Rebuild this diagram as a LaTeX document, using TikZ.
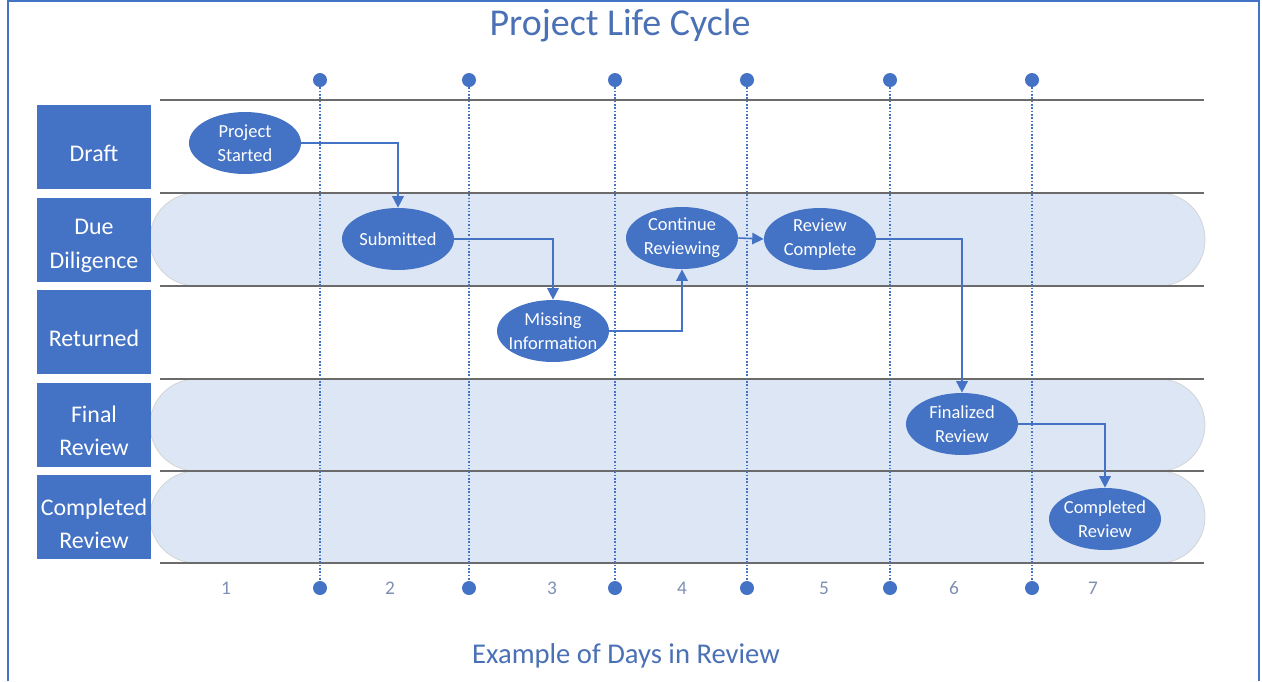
\documentclass[tikz,border=0pt]{standalone}
\usepackage{fontspec}
\setmainfont{Carlito}
\usetikzlibrary{shapes.geometric, arrows.meta}
\definecolor{boxblue}{HTML}{4472C4}
\definecolor{lanefill}{HTML}{DCE6F4}
\definecolor{rulegray}{HTML}{6B6B6B}
\definecolor{titleblue}{HTML}{4A70B5}
\definecolor{daygray}{HTML}{7D8FB3}

\begin{document}
\begin{tikzpicture}[x=0.02cm, y=-0.02cm,
    lanelabel/.style={fill=boxblue, minimum width=2.28cm, minimum height=1.68cm, inner sep=0pt,
        label={[text=white, align=center, font=\fontsize{13.6}{19}\selectfont, yshift=-0.13cm]center:#1}},
    stage/.style={ellipse, fill=boxblue, text=white, minimum width=2.24cm, minimum height=1.24cm, inner sep=-5pt, align=center, font=\fontsize{10.5}{13.6}\selectfont},
    tick/.style={circle, fill=boxblue, minimum size=0.28cm, inner sep=0pt},
    flow/.style={draw=boxblue, line width=0.9pt, -{Triangle[length=6.5pt,width=6.5pt]}},
    lane/.style={fill=lanefill, draw=gray!35, rounded corners=0.92cm},
    rule/.style={draw=rulegray, line width=0.8pt},
    daymark/.style={draw=boxblue, line width=0.9pt, densely dotted},
    day/.style={text=daygray, font=\fontsize{11}{13}\selectfont}]
        \useasboundingbox (0, 0) rectangle (1262, 681);
        \draw[boxblue, line width=0.8pt] (8, 681) -- (8, 1) -- (1259, 1) -- (1259, 681);

        \node[text=titleblue, font=\fontsize{21.6}{26}\selectfont] at (620, 26) (title) {Project Life Cycle};
        \node[text=titleblue, font=\fontsize{16.3}{19}\selectfont] at (626, 656) (axis) {Example of Days in Review};

        \path[lane] (150, 193) rectangle (1205, 286);
        \path[lane] (150, 379) rectangle (1205, 471);
        \path[lane] (150, 471) rectangle (1205, 563);

        \draw[rule] (160, 100) -- (1204, 100);
        \draw[rule] (160, 193) -- (1204, 193);
        \draw[rule] (160, 286) -- (1204, 286);
        \draw[rule] (160, 379) -- (1204, 379);
        \draw[rule] (160, 471) -- (1204, 471);
        \draw[rule] (160, 563) -- (1204, 563);

        \node[lanelabel={Draft}] at (94, 146.5)            (draft)    {};
        \node[lanelabel={Due\\Diligence}] at (94, 239.5)   (due)      {};
        \node[lanelabel={Returned}] at (94, 332)           (returned) {};
        \node[lanelabel={Final\\Review}] at (94, 424.5)    (final)    {};
        \node[lanelabel={Completed\\Review}] at (94, 517)  (done)     {};

        \node[tick] at (320, 80)  (t1) {};
        \node[tick] at (469, 80)  (t2) {};
        \node[tick] at (615, 80)  (t3) {};
        \node[tick] at (747, 80)  (t4) {};
        \node[tick] at (890, 80)  (t5) {};
        \node[tick] at (1032, 80) (t6) {};
        \node[tick] at (320, 588)  (b1) {};
        \node[tick] at (469, 588)  (b2) {};
        \node[tick] at (615, 588)  (b3) {};
        \node[tick] at (747, 588)  (b4) {};
        \node[tick] at (890, 588)  (b5) {};
        \node[tick] at (1032, 588) (b6) {};

        \draw[daymark] (t1) -- (b1);
        \draw[daymark] (t2) -- (b2);
        \draw[daymark] (t3) -- (b3);
        \draw[daymark] (t4) -- (b4);
        \draw[daymark] (t5) -- (b5);
        \draw[daymark] (t6) -- (b6);

        \node[day] at (226, 588)  (d1) {1};
        \node[day] at (390, 588)  (d2) {2};
        \node[day] at (552, 588)  (d3) {3};
        \node[day] at (682, 588)  (d4) {4};
        \node[day] at (824, 588)  (d5) {5};
        \node[day] at (954, 588)  (d6) {6};
        \node[day] at (1093, 588) (d7) {7};

        \node[stage] at (245, 143)  (started)    {Project\\Started};
        \node[stage] at (398, 239)  (submitted)  {Submitted};
        \node[stage] at (553, 331)  (missing)    {Missing\\Information};
        \node[stage] at (682, 238)  (continuing) {Continue\\Reviewing};
        \node[stage] at (820, 239)  (reviewed)   {Review\\Complete};
        \node[stage] at (962, 424)  (finalized)  {Finalized\\Review};
        \node[stage] at (1105, 519) (completed)  {Completed\\Review};

        \draw[flow] (started.east) -| (submitted.north);
        \draw[flow] (submitted.east) -| (missing.north);
        \draw[flow] (missing.east) -| (continuing.south);
        \draw[flow] (continuing.east) -- (reviewed.west);
        \draw[flow] (reviewed.east) -| (finalized.north);
        \draw[flow] (finalized.east) -| (completed.north);
    \end{tikzpicture}
\end{document}
